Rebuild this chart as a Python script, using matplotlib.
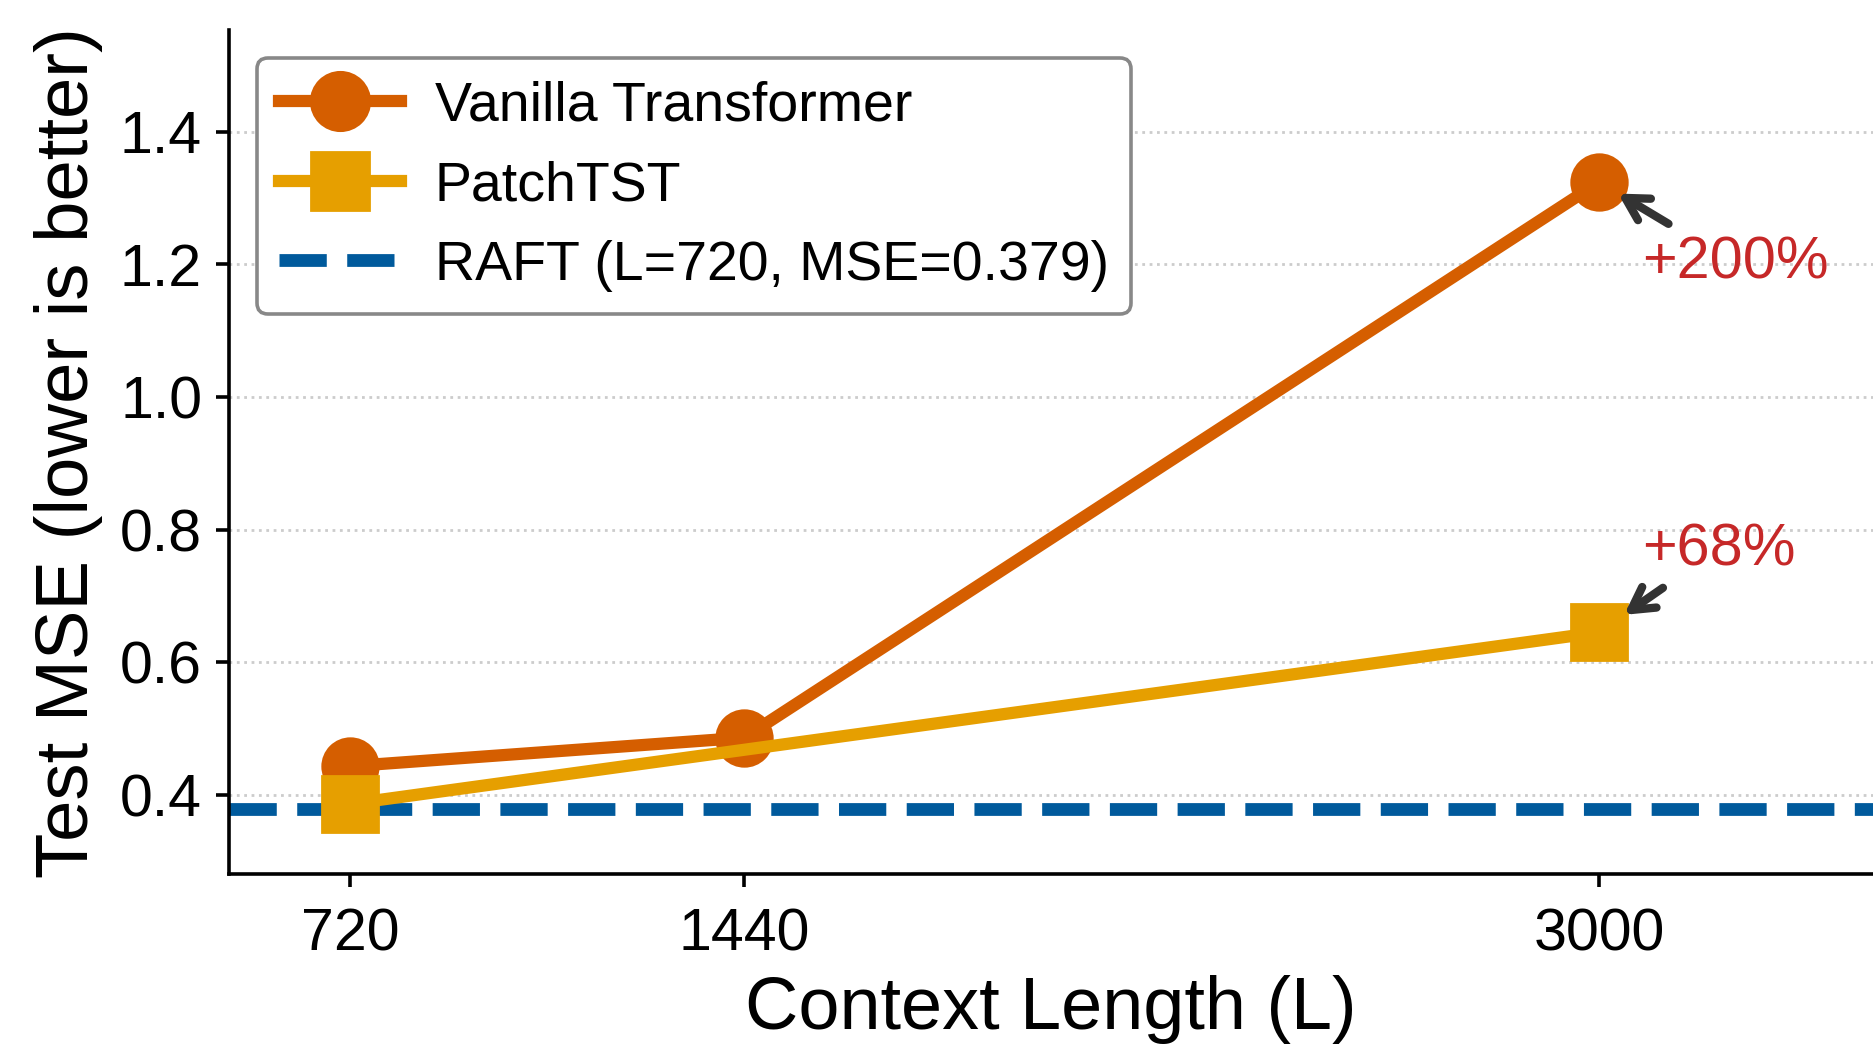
import numpy as np
import matplotlib
matplotlib.use("Agg")
import matplotlib.pyplot as plt

plt.rcParams['font.family'] = ['Liberation Sans', 'DejaVu Sans']

# data
context_len = [720, 1440, 3000]
vanilla_mse = [0.443, 0.486, 1.324]
patch_len = [720, 3000]
patch_mse = [0.386, 0.645]
raft_mse = 0.379
gain_labels = ['+200%', '+68%']

c_vanilla = '#D55E00'
c_patch = '#E69F00'
c_raft = '#005A9C'
c_note = '#C62828'

fig = plt.figure(figsize=(9.365, 5.235), dpi=200)
ax = fig.add_axes([0.1224, 0.165, 0.8776, 0.806])

ax.axhline(raft_mse, color=c_raft, lw=4.6, ls='--', zorder=2,
           label='RAFT (L=720, MSE=0.379)')
ax.plot(context_len, vanilla_mse, color=c_vanilla, lw=4.4, marker='o',
        ms=20, zorder=3, label='Vanilla Transformer')
ax.plot(patch_len, patch_mse, color=c_patch, lw=4.4, marker='s',
        ms=20, zorder=4, label='PatchTST')

# arrows + percentage notes
arrow = dict(arrowstyle='->,head_length=0.8,head_width=0.45', lw=3,
             color='#333333', shrinkA=0)
ax.annotate('', xy=(context_len[-1], vanilla_mse[-1]), xytext=(25, -15),
            textcoords='offset points', arrowprops=dict(arrow, shrinkB=8), zorder=5)
ax.annotate(gain_labels[0], xy=(context_len[-1], vanilla_mse[-1]), xytext=(15.5, -29),
            textcoords='offset points', ha='left', va='center',
            fontsize=21.4, color=c_note)
ax.annotate('', xy=(patch_len[-1], patch_mse[-1]), xytext=(23, 16),
            textcoords='offset points', arrowprops=dict(arrow, shrinkB=11), zorder=5)
ax.annotate(gain_labels[1], xy=(patch_len[-1], patch_mse[-1]), xytext=(15.5, 29.5),
            textcoords='offset points', ha='left', va='center',
            fontsize=21.4, color=c_note)

ax.set_xlim(500, 3500)
ax.set_ylim(0.28, 1.553)
ax.set_xticks(context_len)
ax.set_yticks(np.arange(0.4, 1.41, 0.2))
ax.set_yticklabels(['0.4', '0.6', '0.8', '1.0', '1.2', '1.4'])
ax.tick_params(labelsize=21.3, width=1.3, length=4.8)
ax.tick_params(axis='x', pad=7)
ax.tick_params(axis='y', pad=5)
ax.grid(axis='y', ls=':', color='#cccccc', lw=1.0)
ax.set_axisbelow(True)
for s in ['top', 'right']:
    ax.spines[s].set_visible(False)
for s in ['left', 'bottom']:
    ax.spines[s].set_linewidth(1.3)

ax.set_xlabel('Context Length (L)', fontsize=26.6, labelpad=4.5)
ax.set_ylabel('Test MSE (lower is better)', fontsize=26.8, labelpad=6)

h, l = ax.get_legend_handles_labels()
leg = ax.legend([h[1], h[2], h[0]], [l[1], l[2], l[0]], loc='upper left',
                fontsize=20, handlelength=2.2, handletextpad=0.6,
                markerscale=1.05, framealpha=1, edgecolor='#888888')
leg.get_frame().set_linewidth(1.3)

fig.savefig('out.png', dpi=200)
